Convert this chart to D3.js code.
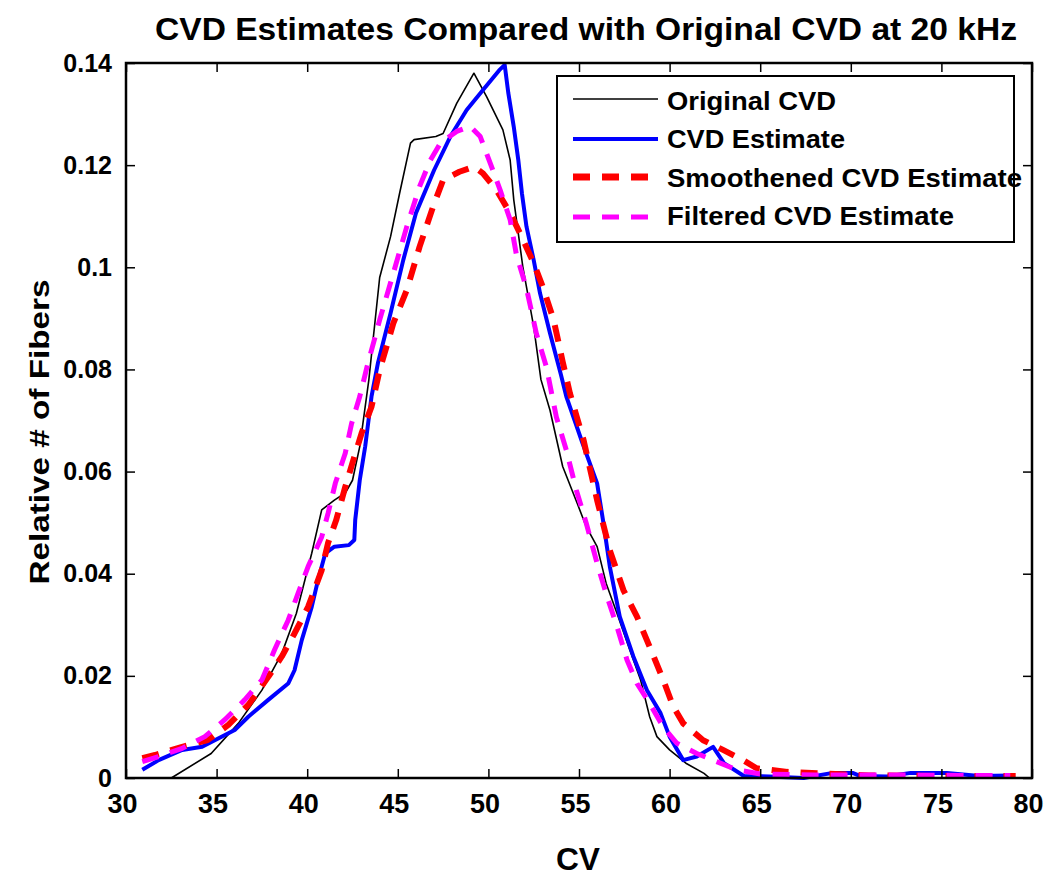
<!DOCTYPE html>
<html>
<head>
<meta charset="utf-8">
<script src="https://cdn.jsdelivr.net/npm/d3@7"></script>
<style>
  html, body { margin: 0; padding: 0; background: #ffffff; }
  svg { display: block; }
  text { font-family: "Liberation Sans", Arial, Helvetica, sans-serif; font-weight: bold; fill: #000; }
</style>
</head>
<body>
<svg id="chart" width="1060" height="892"></svg>
<script>
// ---- data ----
const titleText = "CVD Estimates Compared with Original CVD at 20 kHz";
const xLabelText = "CV";
const yLabelText = "Relative # of Fibers";
const seriesNames = ["Original CVD", "CVD Estimate", "Smoothened CVD Estimate", "Filtered CVD Estimate"];

const xTicks = [30, 35, 40, 45, 50, 55, 60, 65, 70, 75, 80];
const xTickLabels = ["30", "35", "40", "45", "50", "55", "60", "65", "70", "75", "80"];
const yTicks = [0, 0.02, 0.04, 0.06, 0.08, 0.10, 0.12, 0.14];
const yTickLabels = ["0", "0.02", "0.04", "0.06", "0.08", "0.1", "0.12", "0.14"];

const origX = [31, 32.5, 34.7, 36.2, 37.5, 38.6, 39.4, 40.25, 40.8, 41.5, 42.1, 42.5, 42.9, 43.4, 44.0, 44.6, 45.1, 45.7, 45.9, 47.1, 47.5, 48.25, 49.2, 49.9, 50.8, 51.2, 51.4, 51.9, 52.5, 52.9, 53.4, 54.1, 54.9, 55.4, 56.0, 56.5, 57.1, 57.8, 58.4, 58.9, 59.3, 60.0, 60.9, 61.9, 62.2, 79];
const origY = [0, 0, 0.0048, 0.0107, 0.0172, 0.0244, 0.0322, 0.044, 0.0525, 0.0544, 0.0558, 0.0583, 0.0649, 0.0779, 0.098, 0.106, 0.1145, 0.1243, 0.125, 0.1256, 0.1262, 0.1321, 0.138, 0.1334, 0.1269, 0.121, 0.1132, 0.1001, 0.0884, 0.078, 0.072, 0.061, 0.0538, 0.0492, 0.0453, 0.0381, 0.0322, 0.0251, 0.0192, 0.012, 0.0081, 0.0055, 0.0029, 0.0009, 0, 0];

const estX = [30.9, 31.8, 33.1, 34.2, 34.9, 36.0, 36.75, 37.85, 38.95, 39.3, 39.7, 40.25, 40.6, 41.0, 41.5, 42.3, 42.6, 42.65, 42.9, 43.2, 43.55, 43.9, 44.6, 45.3, 46.0, 47.0, 47.9, 48.8, 49.7, 50.6, 50.9, 51.1, 51.4, 51.65, 51.85, 52.1, 52.5, 52.85, 53.4, 54.0, 54.3, 55.2, 56.0, 56.35, 56.7, 57.25, 58.0, 58.75, 59.5, 60.0, 60.75, 61.5, 62.4, 63.0, 64.1, 65.5, 67.4, 69.0, 70.1, 70.5, 72, 73.3, 74.5, 75.3, 77.1, 78.8];
const estY = [0.0016, 0.0035, 0.0055, 0.0061, 0.0074, 0.0094, 0.012, 0.0153, 0.0185, 0.0211, 0.027, 0.0335, 0.0388, 0.044, 0.0453, 0.0456, 0.0466, 0.0505, 0.0583, 0.0649, 0.0747, 0.0812, 0.091, 0.1014, 0.1106, 0.119, 0.1256, 0.1308, 0.1347, 0.1386, 0.1396, 0.1341, 0.1275, 0.121, 0.1145, 0.108, 0.1014, 0.0949, 0.0871, 0.079, 0.0747, 0.0655, 0.0577, 0.0499, 0.0414, 0.0316, 0.0238, 0.0172, 0.0127, 0.0081, 0.0035, 0.0042, 0.0061, 0.0029, 0.0004, 0.0003, 0, 0.001, 0.001, 0.0004, 0.0003, 0.001, 0.001, 0.001, 0.0004, 0.0005];

const smoothX = [30.9, 31.6, 33.1, 34.5, 35.65, 36.75, 37.85, 38.6, 39.3, 40.05, 40.8, 41.15, 41.6, 42.1, 42.55, 43.0, 43.55, 44.0, 44.75, 45.5, 46.2, 46.95, 47.5, 48.4, 49.2, 49.7, 50.45, 51.2, 51.75, 52.5, 53.0, 53.6, 54.1, 54.5, 55.25, 56.0, 56.7, 57.45, 58.2, 58.9, 59.65, 60.2, 60.75, 61.85, 62.95, 64.05, 64.8, 66.5, 68.3, 71, 75, 79.1];
const smoothY = [0.0039, 0.0045, 0.0061, 0.0074, 0.0104, 0.0143, 0.0198, 0.0238, 0.0283, 0.0335, 0.0407, 0.046, 0.0505, 0.057, 0.0623, 0.0675, 0.0727, 0.0799, 0.089, 0.0956, 0.104, 0.1119, 0.1171, 0.1187, 0.1197, 0.1184, 0.1151, 0.1106, 0.1066, 0.1008, 0.0962, 0.0897, 0.0815, 0.0753, 0.0662, 0.0544, 0.0446, 0.0368, 0.0316, 0.0257, 0.0192, 0.014, 0.0107, 0.0074, 0.0055, 0.0035, 0.0019, 0.0012, 0.0009, 0.0005, 0.0004, 0.0004];

const filtX = [30.9, 31.8, 33.1, 34.35, 35.45, 36.55, 37.5, 38.2, 38.95, 39.5, 40.05, 40.8, 41.15, 41.55, 42.1, 42.45, 42.9, 43.3, 44.0, 44.75, 45.5, 46.2, 46.8, 47.35, 48.25, 49.0, 49.55, 50.1, 50.65, 51.2, 51.55, 52.1, 52.65, 53.2, 53.75, 54.3, 54.85, 55.4, 56.0, 56.55, 57.1, 57.65, 58.2, 58.9, 59.65, 60.4, 61.5, 62.6, 63.7, 65, 68, 72, 76, 78.8];
const filtY = [0.0032, 0.0042, 0.0058, 0.0081, 0.0114, 0.0153, 0.0192, 0.0251, 0.0309, 0.0362, 0.0414, 0.0472, 0.0518, 0.0577, 0.0636, 0.0694, 0.0747, 0.0805, 0.0897, 0.0988, 0.108, 0.1158, 0.121, 0.1243, 0.1266, 0.1276, 0.1256, 0.1204, 0.1151, 0.1093, 0.1024, 0.0959, 0.087, 0.0805, 0.0707, 0.0642, 0.0564, 0.0499, 0.042, 0.0355, 0.0296, 0.0231, 0.0185, 0.0146, 0.01, 0.0068, 0.0048, 0.0032, 0.0016, 0.0008, 0.0006, 0.0006, 0.0005, 0.0005];

// ---- layout ----
const plotLeft = 126, plotRight = 1032, plotTop = 63, plotBottom = 778;
const svg = d3.select("#chart");

const x = d3.scaleLinear().domain([30, 80]).range([plotLeft, plotRight]);
const y = d3.scaleLinear().domain([0, 0.14]).range([plotBottom, plotTop]);

// clip
svg.append("defs").append("clipPath").attr("id", "plotClip")
  .append("rect").attr("x", plotLeft).attr("y", plotTop - 2)
  .attr("width", plotRight - plotLeft).attr("height", plotBottom - plotTop + 4);

// ---- series ----
const series = [
  { name: seriesNames[0], xs: origX, ys: origY, color: "#000000", width: 1.6, dash: null },
  { name: seriesNames[1], xs: estX, ys: estY, color: "#0000ff", width: 4, dash: null },
  { name: seriesNames[2], xs: smoothX, ys: smoothY, color: "#ff0000", width: 6, dash: "17,12" },
  { name: seriesNames[3], xs: filtX, ys: filtY, color: "#ff00ff", width: 5, dash: "17,12" }
];

const line = d3.line().x(d => x(d[0])).y(d => y(d[1]));
const gLines = svg.append("g").attr("clip-path", "url(#plotClip)");
series.forEach(s => {
  const pts = s.xs.map((v, i) => [v, s.ys[i]]);
  gLines.append("path")
    .attr("d", line(pts))
    .attr("fill", "none")
    .attr("stroke", s.color)
    .attr("stroke-width", s.width)
    .attr("stroke-linejoin", "round")
    .attr("stroke-dasharray", s.dash);
});

// ---- axes ----
const axisB = d3.axisBottom(x).tickValues(xTicks).tickFormat((d, i) => xTickLabels[i])
  .tickSizeInner(-9).tickSizeOuter(0).tickPadding(15);
const axisT = d3.axisTop(x).tickValues(xTicks).tickFormat("").tickSizeInner(-9).tickSizeOuter(0);
const axisL = d3.axisLeft(y).tickValues(yTicks).tickFormat((d, i) => yTickLabels[i])
  .tickSizeInner(-9).tickSizeOuter(0).tickPadding(14);
const axisR = d3.axisRight(y).tickValues(yTicks).tickFormat("").tickSizeInner(-9).tickSizeOuter(0);

function styleAxis(g) {
  g.select(".domain").remove();
  g.selectAll(".tick line").attr("stroke", "#000").attr("stroke-width", 1.5);
}

const gB = svg.append("g").attr("transform", `translate(0,${plotBottom})`).call(axisB).call(styleAxis);
gB.selectAll("text").attr("font-size", 28).attr("fill", "#000")
  .attr("font-family", "Liberation Sans, Arial, sans-serif").attr("font-weight", "bold")
  .attr("x", -4).attr("textLength", 30).attr("lengthAdjust", "spacingAndGlyphs");
const gT = svg.append("g").attr("transform", `translate(0,${plotTop})`).call(axisT).call(styleAxis);
const gL = svg.append("g").attr("transform", `translate(${plotLeft},0)`).call(axisL).call(styleAxis);
gL.selectAll("text").attr("font-size", 25).attr("fill", "#000")
  .attr("font-family", "Liberation Sans, Arial, sans-serif").attr("font-weight", "bold");
const gR = svg.append("g").attr("transform", `translate(${plotRight},0)`).call(axisR).call(styleAxis);

// box
svg.append("rect").attr("x", plotLeft).attr("y", plotTop)
  .attr("width", plotRight - plotLeft).attr("height", plotBottom - plotTop)
  .attr("fill", "none").attr("stroke", "#000").attr("stroke-width", 2.5);

// ---- titles ----
svg.append("text").attr("x", 155).attr("y", 40).attr("font-size", 32)
  .attr("textLength", 862).attr("lengthAdjust", "spacingAndGlyphs").text(titleText);
svg.append("text").attr("x", 578).attr("y", 870).attr("text-anchor", "middle").attr("font-size", 32)
  .attr("textLength", 44).attr("lengthAdjust", "spacingAndGlyphs").text(xLabelText);
svg.append("text").attr("transform", "translate(49,432) rotate(-90)").attr("text-anchor", "middle")
  .attr("font-size", 28).attr("textLength", 305).attr("lengthAdjust", "spacingAndGlyphs").text(yLabelText);

// ---- legend ----
const legend = svg.append("g");
legend.append("rect").attr("x", 557).attr("y", 76).attr("width", 457).attr("height", 166)
  .attr("fill", "#fff").attr("stroke", "#000").attr("stroke-width", 2);
const legLineY = [99, 139, 177, 217];
const legTextY = [110, 148, 187, 225];
const legTextLen = [169, 178, 355, 287];
series.forEach((s, i) => {
  legend.append("line").attr("x1", 573).attr("x2", 658)
    .attr("y1", legLineY[i]).attr("y2", legLineY[i])
    .attr("stroke", s.color).attr("stroke-width", s.width === 6 ? 7 : s.width)
    .attr("stroke-dasharray", s.dash);
  legend.append("text").attr("x", 667).attr("y", legTextY[i]).attr("font-size", 25)
    .attr("textLength", legTextLen[i]).attr("lengthAdjust", "spacingAndGlyphs").text(s.name);
});
</script>
</body>
</html>
